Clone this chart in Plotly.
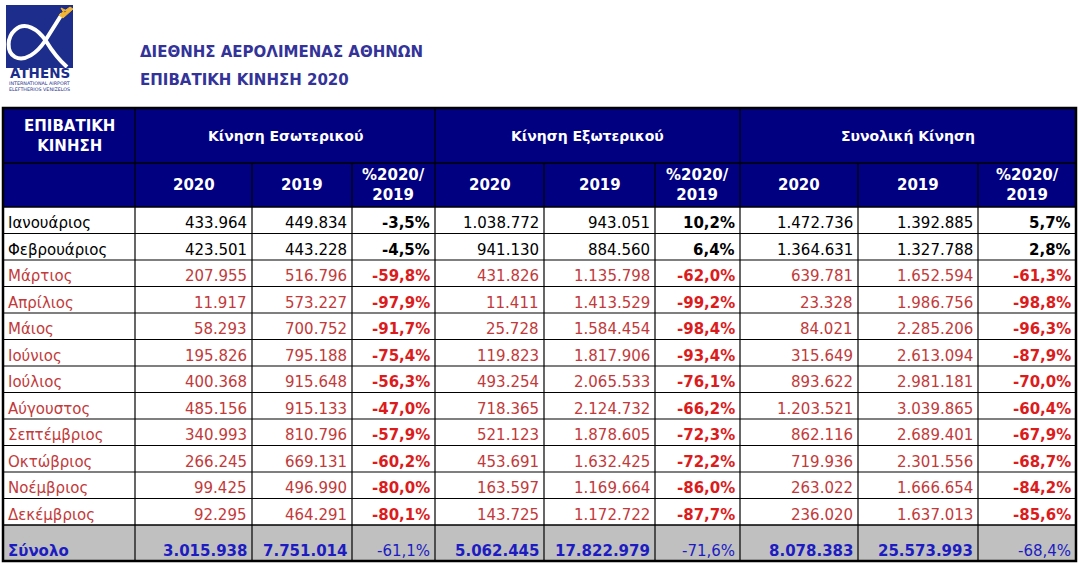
#!/usr/bin/env python3
# Athens International Airport - passenger traffic 2020 table, drawn with Plotly shapes + annotations.

import plotly.graph_objects as go

# ── Data ───────────────────────────────────────────────────────────────────────
months = ["Ιανουάριος", "Φεβρουάριος", "Μάρτιος", "Απρίλιος", "Μάιος", "Ιούνιος",
          "Ιούλιος", "Αύγουστος", "Σεπτέμβριος", "Οκτώβριος", "Νοέμβριος", "Δεκέμβριος"]

dom_2020 = [433964, 423501, 207955, 11917, 58293, 195826, 400368, 485156, 340993, 266245, 99425, 92295]
dom_2019 = [449834, 443228, 516796, 573227, 700752, 795188, 915648, 915133, 810796, 669131, 496990, 464291]
dom_pct  = [-3.5, -4.5, -59.8, -97.9, -91.7, -75.4, -56.3, -47.0, -57.9, -60.2, -80.0, -80.1]

int_2020 = [1038772, 941130, 431826, 11411, 25728, 119823, 493254, 718365, 521123, 453691, 163597, 143725]
int_2019 = [943051, 884560, 1135798, 1413529, 1584454, 1817906, 2065533, 2124732, 1878605, 1632425, 1169664, 1172722]
int_pct  = [10.2, 6.4, -62.0, -99.2, -98.4, -93.4, -76.1, -66.2, -72.3, -72.2, -86.0, -87.7]

tot_2020 = [1472736, 1364631, 639781, 23328, 84021, 315649, 893622, 1203521, 862116, 719936, 263022, 236020]
tot_2019 = [1392885, 1327788, 1652594, 1986756, 2285206, 2613094, 2981181, 3039865, 2689401, 2301556, 1666654, 1637013]
tot_pct  = [5.7, 2.8, -61.3, -98.8, -96.3, -87.9, -70.0, -60.4, -67.9, -68.7, -84.2, -85.6]

total_label = "Σύνολο"
total_row   = [3015938, 7751014, -61.1, 5062445, 17822979, -71.6, 8078383, 25573993, -68.4]

group_labels = ["Κίνηση Εσωτερικού", "Κίνηση Εξωτερικού", "Συνολική Κίνηση"]
sub_labels   = ["2020", "2019", "%2020/<br>2019"]
corner_label = "ΕΠΙΒΑΤΙΚΗ<br>ΚΙΝΗΣΗ"
title_lines  = ["ΔΙΕΘΝΗΣ ΑΕΡΟΛΙΜΕΝΑΣ ΑΘΗΝΩΝ", "ΕΠΙΒΑΤΙΚΗ ΚΙΝΗΣΗ 2020"]
black_rows   = 2  # January and February printed in black, the rest in red

# ── Theme / geometry ───────────────────────────────────────────────────────────
W, H     = 1079, 566
NAVY     = "#000080"
LOGO     = "#1c2d8c"
TITLE    = "#333399"
GRAY     = "#c0c0c0"
RED      = "#c23a3a"
RED_B    = "#dc1c1c"
BLUE     = "#1c1cc0"
FONT     = "DejaVu Sans, Verdana, sans-serif"

col_x = [3, 135, 252, 352, 435, 544, 655, 740, 858, 978, 1076]
h_top, h_mid, h_bot = 108, 163, 207
row_h = 26.5
body_bot = h_bot + row_h * len(months)
tot_bot = 561


def fmt_n(n):
    return f"{n:,}".replace(",", ".")


def fmt_p(p):
    return f"{p:.1f}%".replace(".", ",")


fig = go.Figure()
shapes, ann = [], []


def rect(x0, y0, x1, y1, fill):
    shapes.append(dict(type="rect", xref="x", yref="y", x0=x0, y0=y0, x1=x1, y1=y1,
                       fillcolor=fill, line=dict(width=0), layer="below"))


def line(x0, y0, x1, y1, w=1, color="black"):
    shapes.append(dict(type="line", xref="x", yref="y", x0=x0, y0=y0, x1=x1, y1=y1,
                       line=dict(color=color, width=w)))


def text(x, y, s, size=15, color="black", bold=False, anchor="center"):
    if bold:
        s = f"<b>{s}</b>"
    ann.append(dict(x=x, y=y, xref="x", yref="y", text=s, showarrow=False,
                    xanchor=anchor, yanchor="middle", align="center",
                    font=dict(family=FONT, size=size, color=color)))


# ── Logo ───────────────────────────────────────────────────────────────────────
rect(6, 5, 73, 68, LOGO)
shapes.append(dict(type="path", xref="x", yref="y",
                   path="M 62,14 L 45,41 C 37,53 25,62 15,57 C 6,52 7,37 15,30 "
                        "C 25,21 38,29 46,41 C 52,51 58,59 67,67",
                   line=dict(color="white", width=4)))
shapes.append(dict(type="path", xref="x", yref="y",
                   path="M 59,15 L 70,7 L 73,9 L 63,18 Z M 61,8 L 67,11 L 64,13 Z",
                   fillcolor="#f2b632", line=dict(color="#f2b632", width=1)))
text(39.5, 73, "ATHENS", size=13.5, color=LOGO, bold=True)
text(39.5, 83, "INTERNATIONAL AIRPORT", size=4.8, color=LOGO)
text(39.5, 89, "ELEFTHERIOS VENIZELOS", size=4.8, color=LOGO)

# ── Titles ─────────────────────────────────────────────────────────────────────
text(138, 52, title_lines[0], size=15, color=TITLE, bold=True, anchor="left")
text(138, 80, title_lines[1], size=15, color=TITLE, bold=True, anchor="left")

# ── Header ─────────────────────────────────────────────────────────────────────
rect(col_x[0], h_top, col_x[-1], h_bot, NAVY)
text((col_x[0] + col_x[1]) / 2, 136, corner_label, size=15, color="white", bold=True)
for g, lab in enumerate(group_labels):
    x0, x1 = col_x[1 + 3 * g], col_x[4 + 3 * g]
    text((x0 + x1) / 2, 136, lab, size=14, color="white", bold=True)
    for k, sl in enumerate(sub_labels):
        a, b = col_x[1 + 3 * g + k], col_x[2 + 3 * g + k]
        text((a + b) / 2, 185, sl, size=15, color="white", bold=True)

# ── Body ───────────────────────────────────────────────────────────────────────
cols = [dom_2020, dom_2019, dom_pct, int_2020, int_2019, int_pct, tot_2020, tot_2019, tot_pct]
for i, m in enumerate(months):
    yc = h_bot + row_h * (i + 0.5) + 3
    base = "black" if i < black_rows else RED
    strong = "black" if i < black_rows else RED_B
    text(col_x[0] + 3, yc, m, color=base, anchor="left")
    for c, series in enumerate(cols):
        is_pct = c % 3 == 2
        s = fmt_p(series[i]) if is_pct else fmt_n(series[i])
        text(col_x[c + 2] - 3, yc, s, color=strong if is_pct else base,
             bold=is_pct, anchor="right")

# ── Total row ──────────────────────────────────────────────────────────────────
rect(col_x[0], body_bot, col_x[-1], tot_bot, GRAY)
yt = tot_bot - 10
text(col_x[0] + 3, yt, total_label, color=BLUE, bold=True, anchor="left")
for c, v in enumerate(total_row):
    is_pct = c % 3 == 2
    text(col_x[c + 2] - 3, yt, fmt_p(v) if is_pct else fmt_n(v), color=BLUE,
         bold=not is_pct, anchor="right")

# ── Grid lines ─────────────────────────────────────────────────────────────────
line(col_x[0], h_mid, col_x[-1], h_mid, 1.5)
for i in range(1, len(months)):
    y = h_bot + row_h * i
    line(col_x[0], y, col_x[-1], y, 1.2)
line(col_x[0], h_bot, col_x[-1], h_bot, 1.5)
line(col_x[0], body_bot, col_x[-1], body_bot, 1.5)
for j, x in enumerate(col_x[1:-1], start=1):
    top = h_top if j in (1, 4, 7) else h_mid
    line(x, top, x, tot_bot, 1.2)
shapes.append(dict(type="rect", xref="x", yref="y", x0=col_x[0], y0=h_top,
                   x1=col_x[-1], y1=tot_bot, line=dict(color="black", width=2.5)))

# ── Layout ─────────────────────────────────────────────────────────────────────
fig.update_layout(
    width=W, height=H,
    margin=dict(l=0, r=0, t=0, b=0),
    paper_bgcolor="white", plot_bgcolor="white",
    shapes=shapes, annotations=ann,
    xaxis=dict(range=[0, W], visible=False, fixedrange=True),
    yaxis=dict(range=[H, 0], visible=False, fixedrange=True),
    showlegend=False,
)

# page body has a default 8px margin; drop it so the figure sits at the window origin
fig.write_html("out.html", config={"displayModeBar": False},
               post_script="document.body.style.margin='0';document.body.style.overflow='hidden';")
